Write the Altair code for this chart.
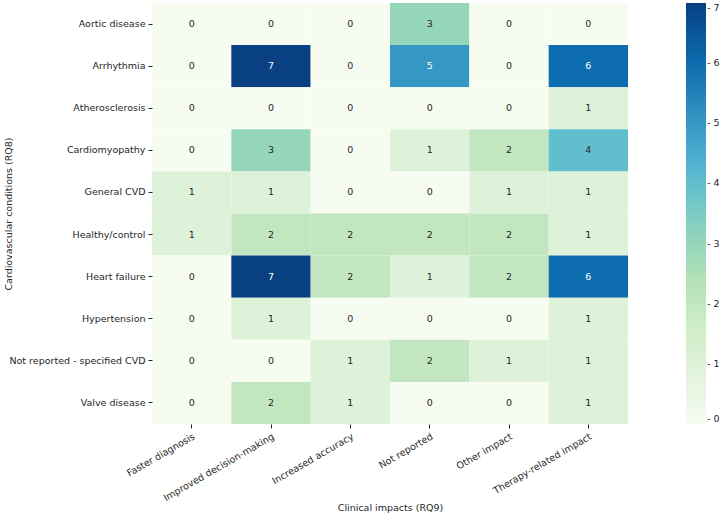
import altair as alt
import pandas as pd

conditions = [
    "Aortic disease",
    "Arrhythmia",
    "Atherosclerosis",
    "Cardiomyopathy",
    "General CVD",
    "Healthy/control",
    "Heart failure",
    "Hypertension",
    "Not reported - specified CVD",
    "Valve disease",
]
impacts = [
    "Faster diagnosis",
    "Improved decision-making",
    "Increased accuracy",
    "Not reported",
    "Other impact",
    "Therapy-related impact",
]
counts = [
    [0, 0, 0, 3, 0, 0],
    [0, 7, 0, 5, 0, 6],
    [0, 0, 0, 0, 0, 1],
    [0, 3, 0, 1, 2, 4],
    [1, 1, 0, 0, 1, 1],
    [1, 2, 2, 2, 2, 1],
    [0, 7, 2, 1, 2, 6],
    [0, 1, 0, 0, 0, 1],
    [0, 0, 1, 2, 1, 1],
    [0, 2, 1, 0, 0, 1],
]

# GnBu colour stops, spread evenly over 0..7
gnbu = ["#f7fcf0", "#e0f3db", "#ccebc5", "#a8ddb5", "#7bccc4",
        "#4eb3d3", "#2b8cbe", "#0868ac", "#084081"]
vmax = 7
stops = [vmax * i / (len(gnbu) - 1) for i in range(len(gnbu))]

rows = []
for ci, cond in enumerate(conditions):
    for ii, imp in enumerate(impacts):
        rows.append({"condition": cond, "impact": imp, "count": counts[ci][ii]})
df = pd.DataFrame(rows)

FONT = "DejaVu Sans"
FS = 9.5

x_enc = alt.X("impact:N", sort=impacts, title="Clinical impacts (RQ9)",
              scale=alt.Scale(paddingInner=0, paddingOuter=0),
              axis=alt.Axis(labelAngle=-30, labelAlign="right", labelBaseline="top",
                            tickSize=4, domain=False, labelPadding=3,
                            titleX=238, titleY=83, titleBaseline="middle"))
y_enc = alt.Y("condition:N", sort=conditions, title="Cardiovascular conditions (RQ8)",
              scale=alt.Scale(paddingInner=0, paddingOuter=0),
              axis=alt.Axis(tickSize=4, domain=False, labelPadding=3,
                            titleX=-144, titleY=210.5, titleBaseline="middle"))

cells = alt.Chart(df).mark_rect().encode(
    x=x_enc,
    y=y_enc,
    color=alt.Color(
        "count:Q",
        scale=alt.Scale(domain=stops, range=gnbu, interpolate="rgb"),
        legend=alt.Legend(
            title=None, orient="none", legendX=534, legendY=0,
            direction="vertical", gradientLength=421, gradientThickness=20,
            gradientStrokeWidth=0, values=list(range(0, 8)),
            labelExpr="'- ' + datum.label",
            labelFontSize=FS, labelFont=FONT, labelColor="#262626",
            labelOverlap=False, labelOffset=1,
        ),
    ),
)

labels = alt.Chart(df).mark_text(font=FONT, fontSize=FS).encode(
    x=alt.X("impact:N", sort=impacts),
    y=alt.Y("condition:N", sort=conditions),
    text="count:Q",
    color=alt.condition(alt.datum.count >= 5, alt.value("#ffffff"), alt.value("#262626")),
)

chart = (
    alt.layer(cells, labels)
    .properties(width=476, height=421, autosize=alt.AutoSizeParams(type="none"),
                padding={"left": 152, "top": 3, "right": 92, "bottom": 89})
    .configure_view(stroke=None)
    .configure_axis(labelFont=FONT, titleFont=FONT, labelFontSize=FS, titleFontSize=FS,
                    labelColor="#262626", titleColor="#262626", tickColor="#262626",
                    titleFontWeight="normal")
)

chart.save("out.html", embed_options={"renderer": "svg", "actions": False})
